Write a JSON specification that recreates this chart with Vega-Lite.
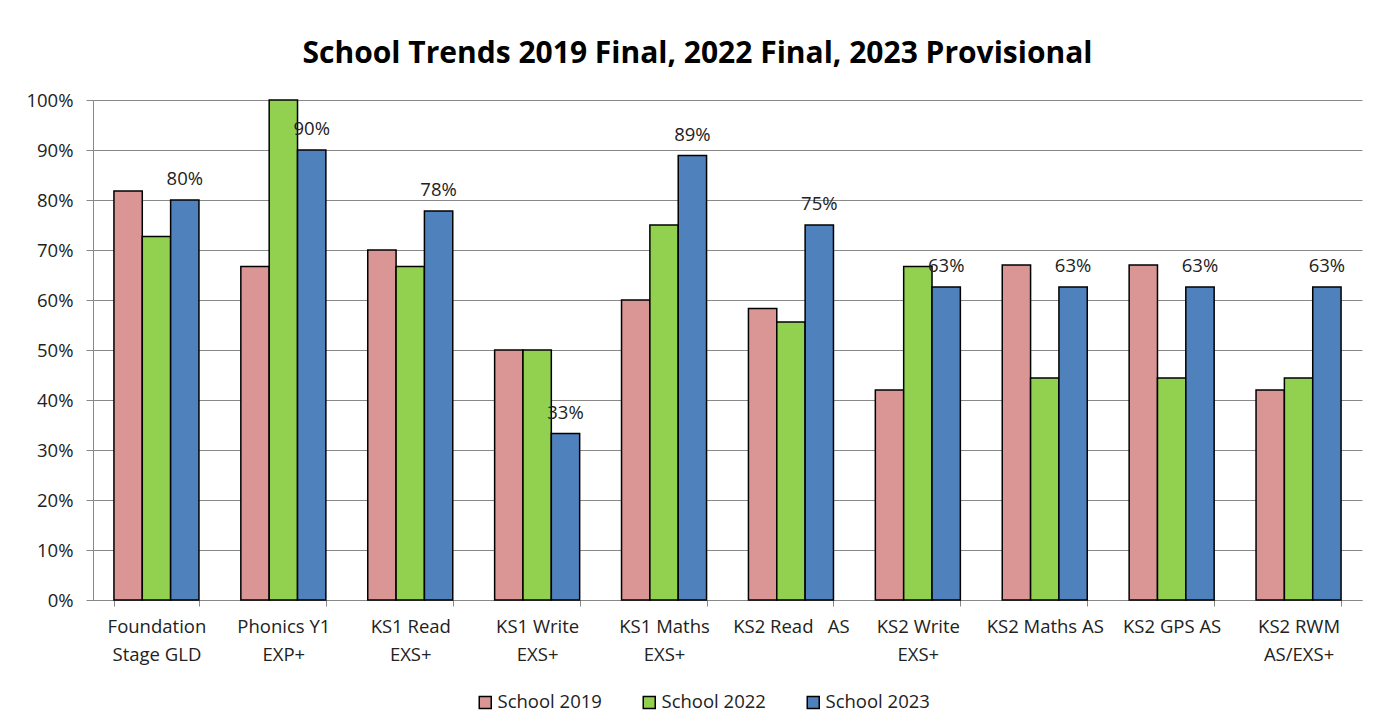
{
  "$schema": "https://vega.github.io/schema/vega-lite/v6.json",
  "width": 1269,
  "height": 500,
  "autosize": "none",
  "padding": {"left": 93, "top": 100, "right": 11, "bottom": 126},
  "background": "white",
  "title": {
    "text": "School Trends 2019 Final, 2022 Final, 2023 Provisional",
    "font": "Open Sans",
    "fontSize": 30,
    "fontWeight": "bold",
    "color": "#000000",
    "anchor": "middle",
    "dx": -30,
    "offset": 22
  },
  "data": {
    "values": [
      {"category": "Foundation Stage GLD", "series": "School 2019", "value": 0.818},
      {"category": "Foundation Stage GLD", "series": "School 2022", "value": 0.727},
      {"category": "Foundation Stage GLD", "series": "School 2023", "value": 0.80},
      {"category": "Phonics Y1 EXP+", "series": "School 2019", "value": 0.667},
      {"category": "Phonics Y1 EXP+", "series": "School 2022", "value": 1.0},
      {"category": "Phonics Y1 EXP+", "series": "School 2023", "value": 0.90},
      {"category": "KS1 Read EXS+", "series": "School 2019", "value": 0.70},
      {"category": "KS1 Read EXS+", "series": "School 2022", "value": 0.667},
      {"category": "KS1 Read EXS+", "series": "School 2023", "value": 0.778},
      {"category": "KS1 Write EXS+", "series": "School 2019", "value": 0.50},
      {"category": "KS1 Write EXS+", "series": "School 2022", "value": 0.50},
      {"category": "KS1 Write EXS+", "series": "School 2023", "value": 0.333},
      {"category": "KS1 Maths EXS+", "series": "School 2019", "value": 0.60},
      {"category": "KS1 Maths EXS+", "series": "School 2022", "value": 0.75},
      {"category": "KS1 Maths EXS+", "series": "School 2023", "value": 0.889},
      {"category": "KS2 Read AS", "series": "School 2019", "value": 0.583},
      {"category": "KS2 Read AS", "series": "School 2022", "value": 0.556},
      {"category": "KS2 Read AS", "series": "School 2023", "value": 0.75},
      {"category": "KS2 Write EXS+", "series": "School 2019", "value": 0.42},
      {"category": "KS2 Write EXS+", "series": "School 2022", "value": 0.667},
      {"category": "KS2 Write EXS+", "series": "School 2023", "value": 0.626},
      {"category": "KS2 Maths AS", "series": "School 2019", "value": 0.67},
      {"category": "KS2 Maths AS", "series": "School 2022", "value": 0.444},
      {"category": "KS2 Maths AS", "series": "School 2023", "value": 0.626},
      {"category": "KS2 GPS AS", "series": "School 2019", "value": 0.67},
      {"category": "KS2 GPS AS", "series": "School 2022", "value": 0.444},
      {"category": "KS2 GPS AS", "series": "School 2023", "value": 0.626},
      {"category": "KS2 RWM AS/EXS+", "series": "School 2019", "value": 0.42},
      {"category": "KS2 RWM AS/EXS+", "series": "School 2022", "value": 0.444},
      {"category": "KS2 RWM AS/EXS+", "series": "School 2023", "value": 0.626}
    ]
  },
  "encoding": {
    "x": {
      "field": "category",
      "type": "nominal",
      "sort": null,
      "scale": {"paddingInner": 0.33, "paddingOuter": 0.165},
      "axis": {
        "title": null,
        "labelAngle": 0,
        "tickBand": "extent",
        "tickSize": 6,
        "tickColor": "#888888",
        "domainColor": "#888888",
        "labelFont": "Open Sans",
        "labelFontSize": 18.5,
        "labelColor": "#222222",
        "labelPadding": 11,
        "labelBaseline": "top",
        "labelLineHeight": 28,
        "labelExpr": "datum.value == 'Foundation Stage GLD' ? ['Foundation', 'Stage GLD'] : datum.value == 'Phonics Y1 EXP+' ? ['Phonics Y1', 'EXP+'] : datum.value == 'KS1 Read EXS+' ? ['KS1 Read', 'EXS+'] : datum.value == 'KS1 Write EXS+' ? ['KS1 Write', 'EXS+'] : datum.value == 'KS1 Maths EXS+' ? ['KS1 Maths', 'EXS+'] : datum.value == 'KS2 Write EXS+' ? ['KS2 Write', 'EXS+'] : datum.value == 'KS2 RWM AS/EXS+' ? ['KS2 RWM', 'AS/EXS+'] : datum.value == 'KS2 Read AS' ? 'KS2 Read\u00a0\u00a0\u00a0AS' : datum.value"
      }
    },
    "xOffset": {
      "field": "series",
      "type": "nominal",
      "scale": {"domain": ["School 2019", "School 2022", "School 2023"], "paddingInner": 0, "paddingOuter": 0}
    },
    "y": {
      "field": "value",
      "type": "quantitative",
      "scale": {"domain": [0, 1], "nice": false},
      "axis": {
        "title": null,
        "format": ".0%",
        "values": [0, 0.1, 0.2, 0.3, 0.4, 0.5, 0.6, 0.7, 0.8, 0.9, 1.0],
        "tickSize": 7,
        "tickColor": "#888888",
        "domainColor": "#888888",
        "gridColor": "#888888",
        "gridWidth": 1,
        "labelFont": "Open Sans",
        "labelFontSize": 18.5,
        "labelColor": "#222222",
        "labelPadding": 13
      }
    }
  },
  "layer": [
    {
      "mark": {"type": "bar", "stroke": "#000000", "strokeWidth": 1.5},
      "encoding": {
        "color": {
          "field": "series",
          "type": "nominal",
          "scale": {
            "domain": ["School 2019", "School 2022", "School 2023"],
            "range": ["#D99694", "#92D050", "#4F81BD"]
          },
          "legend": {
            "title": null,
            "orient": "none",
            "legendX": 383,
            "legendY": 593,
            "direction": "horizontal",
            "symbolType": "square",
            "symbolSize": 144,
            "symbolStrokeColor": "#000000",
            "symbolStrokeWidth": 1.5,
            "labelFont": "Open Sans",
            "labelFontSize": 18.5,
            "labelColor": "#222222",
            "labelOffset": 3,
            "columnPadding": 38
          }
        }
      }
    },
    {
      "transform": [{"filter": "datum.series == 'School 2023'"}],
      "mark": {"type": "text", "dy": -21, "baseline": "middle", "font": "Open Sans", "fontSize": 18.5, "color": "#222222"},
      "encoding": {
        "text": {"field": "value", "type": "quantitative", "format": ".0%"}
      }
    }
  ],
  "config": {"view": {"stroke": null}}
}
